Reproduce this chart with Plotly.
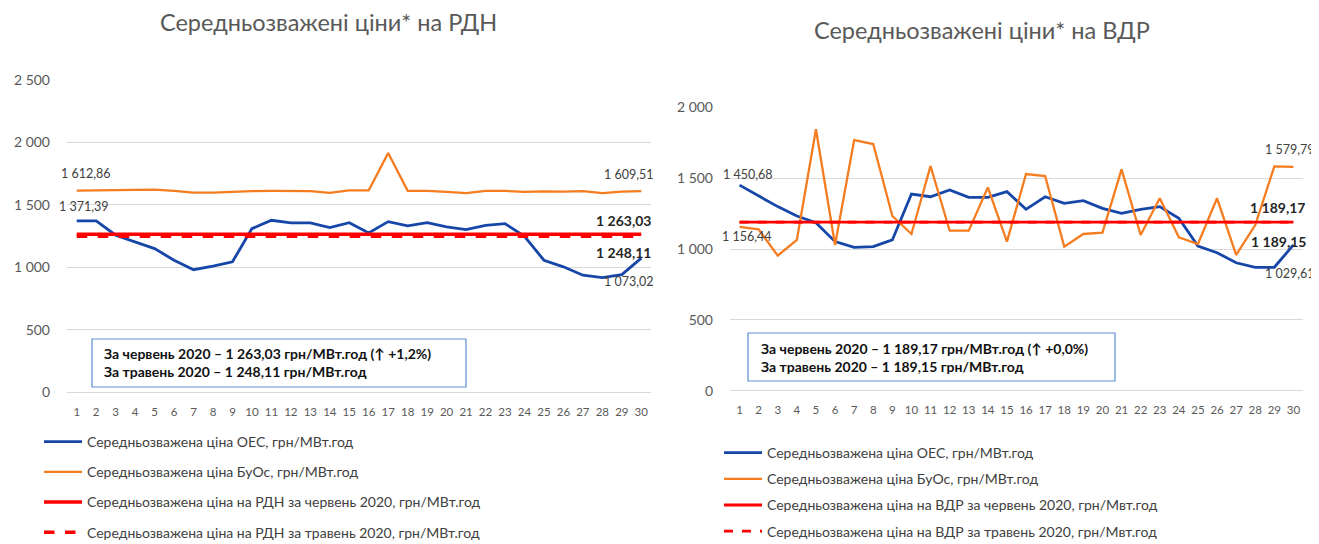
import plotly.graph_objects as go

# ---------------- data ----------------
days = list(range(1, 31))
day_labels = [str(d) for d in days]

rdn_oes = [1371.39, 1371, 1256, 1203, 1149, 1056, 980, 1008, 1043, 1309,
           1376, 1355, 1355, 1317, 1357, 1275, 1365, 1331, 1357, 1323,
           1301, 1336, 1349, 1248, 1056, 1003, 936, 917, 941, 1073.02]
rdn_buos = [1612.86, 1615, 1620, 1624, 1622, 1612, 1598, 1598, 1605, 1610,
            1612, 1612, 1610, 1595, 1616, 1616, 1915, 1612, 1612, 1603,
            1594, 1611, 1611, 1603, 1608, 1606, 1610, 1594, 1605, 1609.51]
rdn_june = 1263.03
rdn_may = 1248.11

vdr_oes = [1450.68, 1374, 1299, 1233, 1185, 1052, 1012, 1017, 1064, 1388,
           1369, 1416, 1365, 1365, 1405, 1280, 1369, 1322, 1341, 1287,
           1252, 1280, 1299, 1217, 1021, 974, 903, 871, 871, 1029.61]
vdr_buos = [1156.44, 1139, 953, 1064, 1845, 1028, 1769, 1741, 1233, 1106,
            1586, 1129, 1129, 1435, 1052, 1529, 1515, 1017, 1106, 1115,
            1562, 1099, 1358, 1083, 1035, 1358, 958, 1169, 1583, 1579.79]
vdr_june = 1189.17
vdr_may = 1189.15

rdn_change = "+1,2%"
vdr_change = "+0,0%"

title_rdn = "Середньозважені ціни* на РДН"
title_vdr = "Середньозважені ціни* на ВДР"
leg_oes = "Середньозважена ціна ОЕС, грн/МВт.год"
leg_buos = "Середньозважена ціна БуОс, грн/МВт.год"
leg_rdn_june = "Середньозважена ціна на РДН за червень 2020, грн/МВт.год"
leg_rdn_may = "Середньозважена ціна на РДН за травень 2020, грн/МВт.год"
leg_vdr_june = "Середньозважена ціна на ВДР за червень 2020, грн/Мвт.год"
leg_vdr_may = "Середньозважена ціна на ВДР за травень 2020, грн/Мвт.год"

# ---------------- styling ----------------
OFF = 8                      # page body margin
W, H = 1319 - OFF, 544 - OFF
FONT = "Lato, 'Open Sans', sans-serif"
BLUE = "#1646A8"
ORANGE = "#F57C1F"
RED = "#FF0000"
GRID = "#D9D9D9"
TXT = "#595959"


def px(x):
    return (x - OFF) / W


def py(y):
    return 1 - (y - OFF) / H


def fmt(v):
    return f"{v:,.2f}".replace(",", " ").replace(".", ",")


fig = go.Figure()

# ---- left chart (РДН)
fig.add_trace(go.Scatter(x=days, y=rdn_oes, mode="lines", name=leg_oes,
                         line=dict(color=BLUE, width=2.8), xaxis="x", yaxis="y",
                         legend="legend", legendgroup="a1"))
fig.add_trace(go.Scatter(x=days, y=rdn_buos, mode="lines", name=leg_buos,
                         line=dict(color=ORANGE, width=2.3), xaxis="x", yaxis="y",
                         legend="legend", legendgroup="a2"))
fig.add_trace(go.Scatter(x=days, y=[rdn_june] * len(days), mode="lines", name=leg_rdn_june,
                         line=dict(color=RED, width=3.5), xaxis="x", yaxis="y",
                         legend="legend", legendgroup="a3"))
fig.add_trace(go.Scatter(x=days, y=[rdn_may] * len(days), mode="lines", name=leg_rdn_may,
                         line=dict(color=RED, width=3.5, dash="dash"), xaxis="x", yaxis="y",
                         legend="legend", legendgroup="a4"))

# ---- right chart (ВДР)
fig.add_trace(go.Scatter(x=days, y=vdr_oes, mode="lines", name=leg_oes,
                         line=dict(color=BLUE, width=2.8), xaxis="x2", yaxis="y2",
                         legend="legend2", legendgroup="b1"))
fig.add_trace(go.Scatter(x=days, y=vdr_buos, mode="lines", name=leg_buos,
                         line=dict(color=ORANGE, width=2.3), xaxis="x2", yaxis="y2",
                         legend="legend2", legendgroup="b2"))
fig.add_trace(go.Scatter(x=days, y=[vdr_may] * len(days), mode="lines", name=leg_vdr_may,
                         line=dict(color=RED, width=2.8, dash="dash"), xaxis="x2", yaxis="y2",
                         legend="legend2", legendgroup="b4", showlegend=False))
fig.add_trace(go.Scatter(x=days, y=[vdr_june] * len(days), mode="lines", name=leg_vdr_june,
                         line=dict(color=RED, width=2.8), xaxis="x2", yaxis="y2",
                         legend="legend2", legendgroup="b3"))
# legend entry for May (keeps order in legend)
fig.add_trace(go.Scatter(x=[None], y=[None], mode="lines", name=leg_vdr_may,
                         line=dict(color=RED, width=2.8, dash="dash"), xaxis="x2", yaxis="y2",
                         legend="legend2", legendgroup="b5"))

xcommon = dict(range=[0.5, 30.5], tickmode="array", tickvals=days, ticktext=day_labels,
               showgrid=False, zeroline=False, showline=False, ticks="",
               tickfont=dict(family=FONT, size=11.5, color=TXT), ticklabelstandoff=11,
               fixedrange=True)
ycommon = dict(dtick=500, tickformat=",d", showgrid=True, gridcolor=GRID, gridwidth=1,
               zeroline=True, zerolinecolor=GRID, zerolinewidth=1, showline=False, ticks="",
               tickfont=dict(family=FONT, size=14, color=TXT), ticklabelstandoff=16,
               fixedrange=True)

LEG_FONT = dict(family=FONT, size=14, color="#404040")

fig.update_layout(
    width=W, height=H,
    margin=dict(l=0, r=0, t=0, b=0, autoexpand=False),
    paper_bgcolor="white", plot_bgcolor="white",
    separators=", ",
    font=dict(family=FONT, color=TXT),
    xaxis=dict(domain=[px(67), px(651)], anchor="y", **xcommon),
    yaxis=dict(domain=[py(392), py(80)], anchor="x", range=[0, 2500], **ycommon),
    xaxis2=dict(domain=[px(730), px(1303)], anchor="y2", **xcommon),
    yaxis2=dict(domain=[py(390.7), py(107.3)], anchor="x2", range=[0, 2000], **ycommon),
    legend=dict(x=px(39), y=py(426), xanchor="left", yanchor="top", font=LEG_FONT,
                tracegroupgap=9, itemwidth=38, bgcolor="rgba(0,0,0,0)"),
    legend2=dict(x=px(719), y=py(437), xanchor="left", yanchor="top", font=LEG_FONT,
                 tracegroupgap=5, itemwidth=38, bgcolor="rgba(0,0,0,0)"),
    showlegend=True,
)

annotations = []
# titles
annotations.append(dict(text=title_rdn, x=px(328), y=py(22), xref="paper", yref="paper",
                        xanchor="center", yanchor="middle",
                        showarrow=False, font=dict(family=FONT, size=23.5, color=TXT)))
annotations.append(dict(text=title_vdr, x=px(982), y=py(30), xref="paper", yref="paper",
                        xanchor="center", yanchor="middle",
                        showarrow=False, font=dict(family=FONT, size=23.5, color=TXT)))

# data labels: vertical position from the value on the axis, horizontal at the chart edge
lab_font = dict(family=FONT, size=12.5, color="#404040")
bold_font = dict(family=FONT, size=14, color="#262626")


def lab(text, xpix, value, ys, yaxis, font):
    annotations.append(dict(text=text, x=px(xpix), y=value, xref="paper", yref=yaxis,
                            showarrow=False, xanchor="center", yanchor="middle",
                            yshift=ys, font=font))


lab(fmt(rdn_buos[0]), 86, rdn_buos[0], 17, "y", lab_font)
lab(fmt(rdn_oes[0]), 84, rdn_oes[0], 14, "y", lab_font)
lab(fmt(rdn_buos[-1]), 629, rdn_buos[-1], 17, "y", lab_font)
lab("<b>" + fmt(rdn_june) + "</b>", 623, rdn_june, 14, "y", bold_font)
lab("<b>" + fmt(rdn_may) + "</b>", 623, rdn_may, -16, "y", bold_font)
lab(fmt(rdn_oes[-1]), 629, rdn_oes[-1], -23, "y", lab_font)

lab(fmt(vdr_oes[0]), 748, vdr_oes[0], 11, "y2", lab_font)
lab(fmt(vdr_buos[0]), 747, vdr_buos[0], -10, "y2", lab_font)
lab(fmt(vdr_buos[-1]), 1290, vdr_buos[-1], 17, "y2", lab_font)
lab("<b>" + fmt(vdr_june) + "</b>", 1277, vdr_june, 15, "y2", bold_font)
lab("<b>" + fmt(vdr_may) + "</b>", 1278, vdr_may, -19, "y2", bold_font)
lab(fmt(vdr_oes[-1]), 1290, vdr_oes[-1], -29, "y2", lab_font)

# summary boxes
box_font = dict(family=FONT, size=14, color="#111111")
annotations.append(dict(
    text=f"<b>За червень 2020 – {fmt(rdn_june)} грн/МВт.год (↑ {rdn_change})</b><br>"
         f"<b>За травень 2020 – {fmt(rdn_may)} грн/МВт.год</b>",
    x=px(102), y=py(362), xref="paper", yref="paper", xanchor="left", yanchor="middle",
    align="left", showarrow=False, font=box_font))
annotations.append(dict(
    text=f"<b>За червень 2020 – {fmt(vdr_june)} грн/МВт.год (↑ {vdr_change})</b><br>"
         f"<b>За травень 2020 – {fmt(vdr_may)} грн/МВт.год</b>",
    x=px(759), y=py(357), xref="paper", yref="paper", xanchor="left", yanchor="middle",
    align="left", showarrow=False, font=box_font))

shapes = [
    dict(type="rect", xref="paper", yref="paper", x0=px(92), x1=px(466), y0=py(387), y1=py(339),
         line=dict(color="#5B8FD6", width=1.2), fillcolor="white", layer="below"),
    dict(type="rect", xref="paper", yref="paper", x0=px(748), x1=px(1115), y0=py(381), y1=py(333),
         line=dict(color="#5B8FD6", width=1.2), fillcolor="white", layer="below"),
]

fig.update_layout(annotations=annotations, shapes=shapes)

fig.write_html("out.html")
